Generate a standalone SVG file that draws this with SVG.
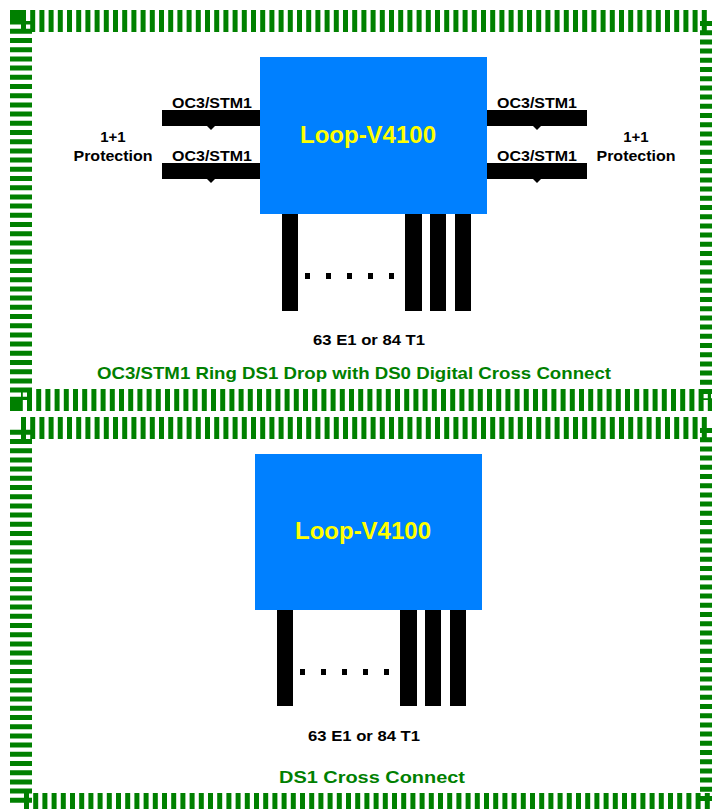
<svg xmlns="http://www.w3.org/2000/svg" width="712" height="809" viewBox="0 0 712 809">
<style>
.frame{fill:none;stroke:#008000;stroke-width:22;stroke-dasharray:5 4.2}
.box{fill:#0080ff}
.bar{fill:#000}
.lbl{font-family:"Liberation Sans",Arial,sans-serif;font-weight:bold;font-size:15px;fill:#000;text-anchor:middle}
.title{font-family:"Liberation Sans",Arial,sans-serif;font-weight:bold;font-size:24px;fill:#ffff00;text-anchor:middle}
.cap{font-family:"Liberation Sans",Arial,sans-serif;font-weight:bold;font-size:17px;fill:#008000;text-anchor:middle}
</style>
<rect width="712" height="809" fill="#fff"/>
<g id="frame1"><rect class="frame" x="21" y="21" width="690" height="379"/></g>
<g id="frame2"><rect class="frame" x="21" y="428" width="690" height="376"/></g>

<g id="connectors">
  <rect class="bar" x="162" y="110" width="98" height="16"/>
  <rect class="bar" x="162" y="163" width="98" height="16"/>
  <rect class="bar" x="487" y="110" width="100" height="16"/>
  <rect class="bar" x="487" y="163" width="100" height="16"/>
  <path class="bar" d="M207 126h8l-4 4z M207 179h8l-4 4z M533 126h8l-4 4z M533 179h8l-4 4z"/>
  <rect class="bar" x="282" y="214" width="16" height="97"/>
  <rect class="bar" x="405" y="214" width="17" height="97"/>
  <rect class="bar" x="430" y="214" width="16" height="97"/>
  <rect class="bar" x="455" y="214" width="16" height="97"/>
  <rect class="bar" x="277" y="610" width="16" height="96"/>
  <rect class="bar" x="400" y="610" width="17" height="96"/>
  <rect class="bar" x="425" y="610" width="16" height="96"/>
  <rect class="bar" x="450" y="610" width="16" height="96"/>
  <g class="bar">
    <rect x="305" y="273" width="5" height="6"/><rect x="326" y="273" width="5" height="6"/><rect x="347" y="273" width="5" height="6"/><rect x="368" y="273" width="5" height="6"/><rect x="389" y="273" width="5" height="6"/>
    <rect x="300" y="669" width="5" height="6"/><rect x="321" y="669" width="5" height="6"/><rect x="342" y="669" width="5" height="6"/><rect x="363" y="669" width="5" height="6"/><rect x="384" y="669" width="5" height="6"/>
  </g>
</g>

<g id="node-top">
  <rect class="box" x="260" y="57" width="227" height="157"/>
  <text class="title" x="368" y="143" textLength="136" lengthAdjust="spacingAndGlyphs">Loop-V4100</text>
</g>
<g id="labels-top">
  <text class="lbl" x="212" y="108" textLength="80" lengthAdjust="spacingAndGlyphs">OC3/STM1</text>
  <text class="lbl" x="212" y="161" textLength="80" lengthAdjust="spacingAndGlyphs">OC3/STM1</text>
  <text class="lbl" x="537" y="108" textLength="80" lengthAdjust="spacingAndGlyphs">OC3/STM1</text>
  <text class="lbl" x="537" y="161" textLength="80" lengthAdjust="spacingAndGlyphs">OC3/STM1</text>
  <text class="lbl" x="113" y="142">1+1</text>
  <text class="lbl" x="113" y="161" textLength="79" lengthAdjust="spacingAndGlyphs">Protection</text>
  <text class="lbl" x="636" y="142">1+1</text>
  <text class="lbl" x="636" y="161" textLength="79" lengthAdjust="spacingAndGlyphs">Protection</text>
  <text class="lbl" x="369" y="345" textLength="112" lengthAdjust="spacingAndGlyphs">63 E1 or  84 T1</text>
  <text class="cap" x="354" y="379" textLength="514" lengthAdjust="spacingAndGlyphs">OC3/STM1 Ring DS1 Drop with DS0 Digital Cross Connect</text>
</g>

<g id="node-bottom">
  <rect class="box" x="255" y="454" width="227" height="156"/>
  <text class="title" x="363" y="539" textLength="136" lengthAdjust="spacingAndGlyphs">Loop-V4100</text>
</g>
<g id="labels-bottom">
  <text class="lbl" x="364" y="741" textLength="112" lengthAdjust="spacingAndGlyphs">63 E1 or  84 T1</text>
  <text class="cap" x="372" y="783" textLength="186" lengthAdjust="spacingAndGlyphs">DS1 Cross Connect</text>
</g>
</svg>
